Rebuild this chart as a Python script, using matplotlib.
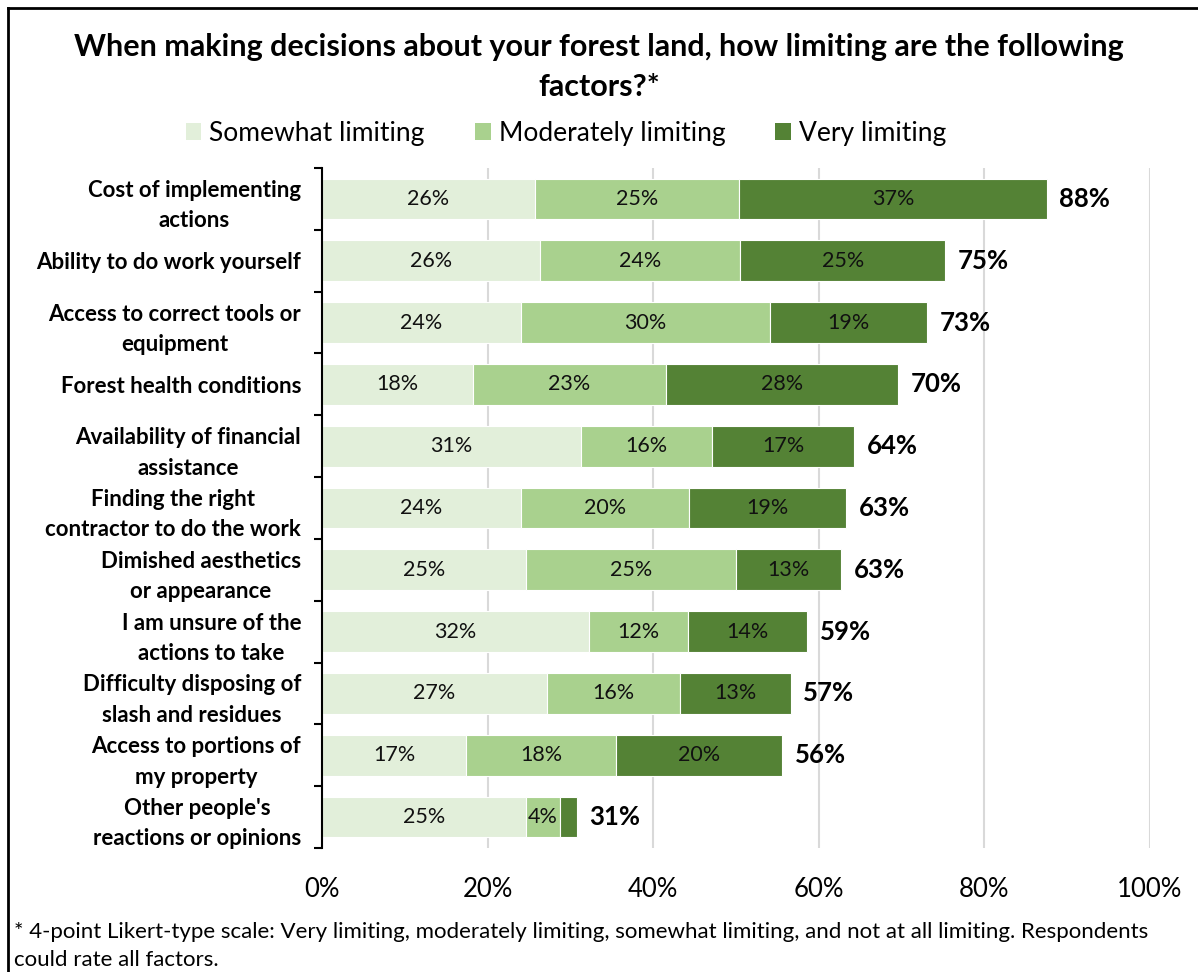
import matplotlib
matplotlib.use("Agg")
import matplotlib.pyplot as plt
from matplotlib.lines import Line2D
from matplotlib.patches import Patch

plt.rcParams['font.family'] = ['Lato', 'DejaVu Sans']

# Survey factors, top to bottom
factors = [
    "Cost of implementing\nactions",
    "Ability to do work yourself",
    "Access to correct tools or\nequipment",
    "Forest health conditions",
    "Availability of financial\nassistance",
    "Finding the right\ncontractor to do the work",
    "Dimished aesthetics\nor appearance",
    "I am unsure of the\nactions to take",
    "Difficulty disposing of\nslash and residues",
    "Access to portions of\nmy property",
    "Other people's\nreactions or opinions",
]

# Share of respondents (%) per rating level
somewhat = [25.7, 26.3, 24.0, 18.2, 31.3, 24.0, 24.6, 32.2, 27.2, 17.4, 24.6]
moderately = [24.7, 24.2, 30.1, 23.3, 15.8, 20.3, 25.4, 12.0, 16.0, 18.1, 4.1]
very = [37.1, 24.8, 19.0, 28.1, 17.2, 19.0, 12.7, 14.4, 13.4, 20.1, 2.1]

series_names = ["Somewhat limiting", "Moderately limiting", "Very limiting"]
colors = ["#E2EFDA", "#A9D18E", "#548235"]
x_ticks = [0, 20, 40, 60, 80, 100]

fig = plt.figure(figsize=(11.98, 9.72), dpi=100)
ax = fig.add_axes([322 / 1198, 1 - 848 / 972, 828 / 1198, 680 / 972])

n = len(factors)
ypos = list(range(n))
left = [0.0] * n
for vals, col, name in zip([somewhat, moderately, very], colors, series_names):
    bars = ax.barh(ypos, vals, left=left, height=0.66, color=col,
                   edgecolor="white", linewidth=0.8, label=name, zorder=3)
    for b, v in zip(bars, vals):
        if v >= 3:
            ax.text(b.get_x() + b.get_width() / 2, b.get_y() + b.get_height() / 2,
                    f"{round(v):d}%", ha="center", va="center",
                    fontsize=15.5, color="#111111", zorder=4)
    left = [l + v for l, v in zip(left, vals)]

# Totals at bar ends
for y, tot in zip(ypos, left):
    ax.annotate(f"{round(tot):d}%", xy=(tot, y), xytext=(9, 0),
                textcoords="offset points", ha="left", va="center",
                fontsize=18.5, fontweight="bold", color="black")

ax.set_xlim(0, 100)
ax.set_ylim(n - 0.5, -0.5)
ax.set_xticks(x_ticks)
ax.set_xticklabels([f"{t}%" for t in x_ticks], fontsize=18.5)
ax.tick_params(axis="x", length=0, pad=21)

ax.set_yticks(ypos)
ax.set_yticklabels(factors, fontsize=16, fontweight="bold", linespacing=1.55)
for lbl in ax.get_yticklabels():
    lbl.set_multialignment("center")
ax.tick_params(axis="y", which="major", length=0, pad=15)
ax.set_yticks([i - 0.5 for i in range(n + 1)], minor=True)
ax.tick_params(axis="y", which="minor", length=6, width=1.5, color="black")

ax.grid(axis="x", color="#d9d9d9", linewidth=1.5, zorder=0)
for s in ["top", "right", "bottom"]:
    ax.spines[s].set_visible(False)
ax.spines["left"].set_linewidth(1.5)
ax.spines["left"].set_zorder(5)

fig.text(0.5, 1 - 67 / 972,
         "When making decisions about your forest land, how limiting are the following\nfactors?*",
         ha="center", va="center", fontsize=22, fontweight="bold", linespacing=1.5)

handles = [Patch(facecolor=c, edgecolor="none") for c in colors]
fig.legend(handles, series_names, loc="center", bbox_to_anchor=(566 / 1198, 1 - 133 / 972),
           ncol=3, frameon=False, fontsize=19, handlelength=0.6, handleheight=0.6,
           handletextpad=0.3, columnspacing=1.9)

fig.text(14 / 1198, 1 - 932 / 972,
         "* 4-point Likert-type scale: Very limiting, moderately limiting, somewhat limiting, and not at all limiting. Respondents",
         ha="left", va="center", fontsize=16)
fig.text(14 / 1198, 1 - 960 / 972, "could rate all factors.",
         ha="left", va="center", fontsize=16)

# Frame along the top and left edges
fig.add_artist(Line2D([8 / 1198, 1.0], [1 - 8 / 972, 1 - 8 / 972], color="black", linewidth=2,
                      transform=fig.transFigure))
fig.add_artist(Line2D([8 / 1198, 8 / 1198], [0.0, 1 - 8 / 972], color="black", linewidth=2,
                      transform=fig.transFigure))

fig.savefig("out.png", dpi=100, facecolor="white")
